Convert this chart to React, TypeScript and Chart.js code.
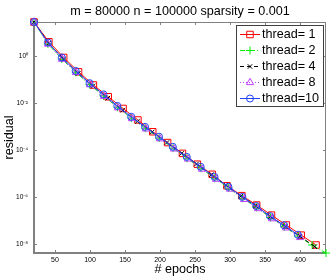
import React, { useEffect, useRef } from 'react';
import { Chart, registerables } from 'chart.js';

Chart.register(...registerables);

// ---------- data ----------
const titleText = 'm = 80000 n = 100000 sparsity = 0.001';
const xTitle = '# epochs';
const yTitle = 'residual';
const seriesLabels = ['thread= 1', 'thread= 2', 'thread= 4', 'thread= 8', 'thread=10'];

const epochs1 = [20, 41.2, 62.4, 83.6, 104.8, 126, 147.2, 168.4, 189.6, 210.8, 232, 253.2, 274.4, 295.6, 316.8, 338, 359.2, 380.4, 401.6, 422.8];
const residual1 = [28.2, 4.07, 0.871, 0.214, 0.0589, 0.0186, 5.89e-3, 1.91e-3, 6.03e-4, 2.09e-4, 7.24e-5, 2.51e-5, 9.33e-6, 3.02e-6, 1.15e-6, 4.57e-7, 1.7e-7, 6.46e-8, 2.4e-8, 9.12e-9];

const epochs2 = [20, 39.9, 59.7, 79.6, 99.4, 119.3, 139.2, 159, 178.9, 198.7, 218.6, 238.5, 258.3, 278.2, 298, 317.9, 337.8, 357.6, 377.5, 397.3, 417.2, 437];
const residual2 = [28.2, 3.31, 0.759, 0.204, 0.0617, 0.0204, 6.61e-3, 2.29e-3, 8.51e-4, 3.24e-4, 1.2e-4, 4.47e-5, 1.7e-5, 6.31e-6, 2.4e-6, 8.91e-7, 3.63e-7, 1.35e-7, 5.5e-8, 2.19e-8, 9.12e-9, 4.17e-9];

const epochs4 = [20, 41.1, 62.2, 83.3, 104.4, 125.5, 146.6, 167.7, 188.8, 209.9, 231, 252.1, 273.2, 294.3, 315.4, 336.5, 357.6, 378.7, 399.8, 420.9];
const residual4 = [28.2, 3.47, 0.741, 0.186, 0.0525, 0.0162, 5.01e-3, 1.66e-3, 5.89e-4, 2.09e-4, 7.24e-5, 2.57e-5, 8.91e-6, 3.16e-6, 1.1e-6, 4.27e-7, 1.48e-7, 5.62e-8, 2.14e-8, 7.76e-9];

const epochs8 = [20, 40, 60, 80, 100, 120, 140, 160, 180, 200, 220, 240, 260, 280, 300, 320, 340, 360, 380, 400];
const residual8 = [28.2, 3.24, 0.741, 0.2, 0.0603, 0.0195, 6.31e-3, 2.19e-3, 7.94e-4, 3.02e-4, 1.12e-4, 4.17e-5, 1.55e-5, 5.75e-6, 2.19e-6, 7.94e-7, 3.24e-7, 1.2e-7, 4.9e-8, 1.91e-8];

const epochs10 = [20, 39.8, 59.7, 79.5, 99.3, 119.2, 139, 158.8, 178.6, 198.5, 218.3, 238.1, 258, 277.8, 297.6, 317.5, 337.3, 357.1, 376.9, 396.8];
const residual10 = [28.2, 3.8, 0.871, 0.234, 0.0708, 0.0234, 7.59e-3, 2.63e-3, 9.77e-4, 3.72e-4, 1.38e-4, 5.13e-5, 1.95e-5, 7.24e-6, 2.75e-6, 1.02e-6, 4.17e-7, 1.55e-7, 6.31e-8, 2.51e-8];

const xTicks = [50, 100, 150, 200, 250, 300, 350, 400];
const yTicks = [1e-8, 1e-6, 1e-4, 1e-2, 1];
const yTickLabels = ['10⁻⁸', '10⁻⁶', '10⁻⁴', '10⁻²', '10⁰'];
const xRange = [20, 437];
const yRange = [4.17e-9, 28.2];

// ---------- styles ----------
const FONT = "'Liberation Sans', Arial, Helvetica, sans-serif";
const AXIS_COLOR = '#808080';

const styles = [
  { color: '#ff0000', dash: [] as number[], point: 'rect', radius: 4.6 },
  { color: '#00ee00', dash: [5, 2, 1, 2], point: 'cross', radius: 4 },
  { color: '#000000', dash: [4, 3], point: 'crossRot', radius: 3.2 },
  { color: '#c040ff', dash: [1, 2], point: 'triangle', radius: 4.2 },
  { color: '#2244ff', dash: [] as number[], point: 'circle', radius: 3.5 },
];

const seriesX = [epochs1, epochs2, epochs4, epochs8, epochs10];
const seriesY = [residual1, residual2, residual4, residual8, residual10];

function drawMarker(ctx: CanvasRenderingContext2D, style: string, x: number, y: number, r: number) {
  ctx.beginPath();
  if (style === 'rect') {
    const s = Math.SQRT1_2 * r;
    ctx.rect(x - s, y - s, 2 * s, 2 * s);
  } else if (style === 'circle') {
    ctx.arc(x, y, r, 0, Math.PI * 2);
  } else if (style === 'triangle') {
    let a = 0;
    ctx.moveTo(x + Math.sin(a) * r, y - Math.cos(a) * r);
    a += (2 * Math.PI) / 3;
    ctx.lineTo(x + Math.sin(a) * r, y - Math.cos(a) * r);
    a += (2 * Math.PI) / 3;
    ctx.lineTo(x + Math.sin(a) * r, y - Math.cos(a) * r);
    ctx.closePath();
  } else if (style === 'cross') {
    ctx.moveTo(x, y - r);
    ctx.lineTo(x, y + r);
    ctx.moveTo(x - r, y);
    ctx.lineTo(x + r, y);
  } else if (style === 'crossRot') {
    const s = Math.SQRT1_2 * r;
    ctx.moveTo(x - s, y - s);
    ctx.lineTo(x + s, y + s);
    ctx.moveTo(x - s, y + s);
    ctx.lineTo(x + s, y - s);
  }
  ctx.stroke();
}

const framePlugin = {
  id: 'matlabFrame',
  beforeDatasetsDraw(chart: any) {
    const { ctx, chartArea, scales } = chart;
    const { left, right, top, bottom } = chartArea;
    ctx.save();
    ctx.strokeStyle = AXIS_COLOR;
    ctx.lineWidth = 1;
    const line = (x1: number, y1: number, x2: number, y2: number) => {
      ctx.beginPath();
      ctx.moveTo(x1, y1);
      ctx.lineTo(x2, y2);
      ctx.stroke();
    };
    xTicks.forEach((v) => {
      const px = Math.round(scales.x.getPixelForValue(v)) + 0.5;
      line(px, bottom, px, bottom - 3);
      line(px, top, px, top + 3);
    });
    yTicks.forEach((v) => {
      const py = Math.round(scales.y.getPixelForValue(v)) + 0.5;
      line(left, py, left + 3, py);
      line(right, py, right - 3, py);
    });
    ctx.lineWidth = 1;
    line(left, top + 0.5, right, top + 0.5);
    line(right - 0.5, top, right - 0.5, bottom);
    ctx.lineWidth = 2;
    line(left, top - 0.5, left, bottom + 1);
    line(left - 1, bottom, right, bottom);
    ctx.restore();
  },
};

const legendPlugin = {
  id: 'matlabLegend',
  afterDatasetsDraw(chart: any) {
    const { ctx, chartArea } = chart;
    const w = 87;
    const h = 81;
    const bx = chartArea.right - 3 - w;
    const by = chartArea.top + 3;
    ctx.save();
    ctx.fillStyle = '#ffffff';
    ctx.fillRect(bx, by, w, h);
    ctx.strokeStyle = '#404040';
    ctx.lineWidth = 1;
    ctx.strokeRect(bx + 0.5, by + 0.5, w, h);
    chart.data.datasets.forEach((ds: any, i: number) => {
      const st = styles[i];
      const cy = by + 9.5 + i * 16;
      ctx.strokeStyle = st.color;
      ctx.lineWidth = 1;
      ctx.setLineDash(st.dash);
      ctx.beginPath();
      ctx.moveTo(bx + 4, cy);
      ctx.lineTo(bx + 24, cy);
      ctx.stroke();
      ctx.setLineDash([]);
      drawMarker(ctx, st.point, bx + 14, cy, st.radius);
      ctx.fillStyle = '#000';
      ctx.font = `12.6px ${FONT}`;
      ctx.textBaseline = 'middle';
      ctx.textAlign = 'left';
      ctx.fillText(ds.label, bx + 26, cy + 0.5);
    });
    ctx.restore();
  },
};

export default function App() {
  const ref = useRef<HTMLCanvasElement>(null);

  useEffect(() => {
    if (!ref.current) return;
    const datasets = seriesLabels.map((label, i) => ({
      label,
      data: seriesX[i].map((e, j) => ({ x: e, y: seriesY[i][j] })),
      borderColor: styles[i].color,
      backgroundColor: 'transparent',
      borderWidth: 1,
      borderDash: styles[i].dash,
      pointStyle: styles[i].point,
      pointRadius: styles[i].radius,
      pointBorderColor: styles[i].color,
      pointBackgroundColor: 'transparent',
      pointBorderWidth: 1,
      tension: 0,
      fill: false,
      clip: false,
      order: 5 - i,
    }));

    const chart = new Chart(ref.current, {
      type: 'line',
      data: { datasets },
      options: {
        responsive: false,
        animation: false,
        devicePixelRatio: 1,
        layout: { padding: { left: 0, right: 6, top: 0, bottom: 0 } },
        plugins: {
          legend: { display: false },
          tooltip: { enabled: false },
          title: {
            display: true,
            text: titleText,
            fullSize: false,
            color: '#000',
            font: { family: FONT, size: 12.6, weight: 'normal' },
            padding: { top: 4, bottom: 2.88 },
          },
        },
        scales: {
          x: {
            type: 'linear',
            min: xRange[0],
            max: xRange[1],
            afterBuildTicks: (s: any) => {
              s.ticks = xTicks.map((v) => ({ value: v }));
            },
            afterFit: (s: any) => {
              s.height = 26;
            },
            grid: { display: false, drawTicks: false },
            border: { display: false },
            ticks: {
              color: '#000',
              font: { family: FONT, size: 7 },
              padding: 3,
              maxRotation: 0,
              autoSkip: false,
            },
            title: {
              display: true,
              text: xTitle,
              color: '#000',
              font: { family: FONT, size: 12.6 },
              padding: { top: 0, bottom: 2 },
            },
          },
          y: {
            type: 'logarithmic',
            min: yRange[0],
            max: yRange[1],
            afterBuildTicks: (s: any) => {
              s.ticks = yTicks.map((v) => ({ value: v }));
            },
            afterFit: (s: any) => {
              s.width = 34;
            },
            grid: { display: false, drawTicks: false },
            border: { display: false },
            ticks: {
              color: '#000',
              font: { family: FONT, size: 6.5 },
              padding: 6,
              autoSkip: false,
              callback: (v: any) => {
                const idx = yTicks.indexOf(Number(v));
                return idx >= 0 ? yTickLabels[idx] : '';
              },
            },
            title: {
              display: true,
              text: yTitle,
              color: '#000',
              font: { family: FONT, size: 12.6 },
              padding: { top: 2, bottom: 0 },
            },
          },
        },
      } as any,
      plugins: [framePlugin, legendPlugin],
    });
    return () => chart.destroy();
  }, []);

  return (
    <div style={{ position: 'fixed', left: 0, top: 0, width: 332, height: 279, background: '#fff' }}>
      <canvas ref={ref} width={332} height={279} style={{ display: 'block', width: 332, height: 279 }} />
    </div>
  );
}
